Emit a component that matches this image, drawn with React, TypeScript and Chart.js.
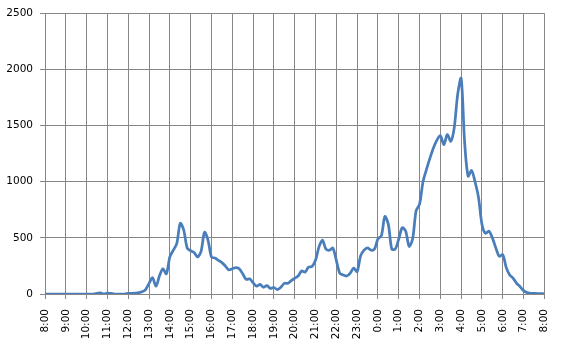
import React, { useEffect, useRef } from "react";
import { Chart, registerables } from "chart.js";

Chart.register(...registerables);

// x tick labels, one per hour, starting at 8:00
const hourLabels = [
  "8:00", "9:00", "10:00", "11:00", "12:00", "13:00", "14:00", "15:00",
  "16:00", "17:00", "18:00", "19:00", "20:00", "21:00", "22:00", "23:00",
  "0:00", "1:00", "2:00", "3:00", "4:00", "5:00", "6:00", "7:00", "8:00",
];

// sample interval in minutes
const stepMinutes = 10;

// values every 10 minutes from 8:00 to 8:00 next day
const values = [
  // 8
  0, 0, 0, 0, 0, 0,
  // 9
  0, 0, 0, 0, 0, 0,
  // 10
  0, 0, 0, 5, 10, 0,
  // 11
  8, 5, 0, 0, 0, 0,
  // 12
  5, 5, 8, 12, 20, 40,
  // 13
  95, 145, 70, 160, 225, 180,
  // 14
  330, 390, 450, 630, 570, 410,
  // 15
  385, 370, 330, 380, 550, 480,
  // 16
  330, 320, 300, 280, 250, 215,
  // 17
  225, 235, 225, 180, 130, 135,
  // 18
  100, 70, 85, 60, 75, 50,
  // 19
  58, 40, 60, 95, 95, 120,
  // 20
  140, 160, 205, 195, 240, 245,
  // 21
  300, 420, 480, 400, 390, 410,
  // 22
  300, 185, 170, 160, 185, 230,
  // 23
  200, 340, 390, 410, 390, 400,
  // 0
  490, 520, 690, 620, 400, 400,
  // 1
  490, 590, 560, 425, 490, 740,
  // 2
  800, 1000, 1110, 1210, 1300, 1370,
  // 3
  1410, 1330, 1420, 1360, 1480, 1780,
  // 4
  1920, 1350, 1050, 1100, 1000, 860,
  // 5
  620, 540, 560, 500, 410, 335,
  // 6
  350, 235, 170, 140, 95, 65,
  // 7
  30, 12, 6, 5, 4, 3,
  // 8
  2,
];

const yTicks = [0, 500, 1000, 1500, 2000, 2500];

export default function App() {
  const canvasRef = useRef<HTMLCanvasElement | null>(null);

  useEffect(() => {
    const canvas = canvasRef.current;
    if (!canvas) return;
    const gridColor = "#878787";
    const font = { family: "'DejaVu Sans', Verdana, sans-serif", size: 10.5 };
    const chart = new Chart(canvas, {
      type: "line",
      data: {
        datasets: [
          {
            data: values.map((v, i) => ({ x: i * stepMinutes, y: v })),
            borderColor: "#4A7EBB",
            borderWidth: 2.75,
            pointRadius: 0,
            tension: 0.3,
            fill: false,
          },
        ],
      },
      options: {
        animation: false,
        responsive: false,
        maintainAspectRatio: false,
        layout: { padding: { left: 0, right: 12, top: 10, bottom: 0 } },
        plugins: { legend: { display: false }, tooltip: { enabled: false } },
        scales: {
          x: {
            type: "linear",
            min: 0,
            max: (hourLabels.length - 1) * 60,
            afterFit: (s: any) => {
              s.height = 51;
            },
            afterBuildTicks: (s: any) => {
              s.ticks = hourLabels.map((_, i) => ({ value: i * 60 }));
            },
            ticks: {
              stepSize: 60,
              autoSkip: false,
              maxRotation: 90,
              minRotation: 90,
              padding: 10,
              color: "#000",
              font,
              callback: (v: any) => hourLabels[Math.round(Number(v) / 60)],
            },
            grid: {
              color: gridColor,
              lineWidth: 1,
              tickLength: 5,
              drawTicks: true,
            },
            border: { color: gridColor, width: 1 },
          },
          y: {
            min: 0,
            max: 2500,
            afterFit: (s: any) => {
              s.width = 45;
            },
            afterBuildTicks: (s: any) => {
              s.ticks = yTicks.map((v) => ({ value: v }));
            },
            ticks: {
              padding: 7,
              color: "#000",
              font,
              callback: (v: any) => String(v),
            },
            grid: {
              color: gridColor,
              lineWidth: 1,
              tickLength: 5,
            },
            border: { color: gridColor, width: 1 },
          },
        },
      },
    });
    return () => chart.destroy();
  }, []);

  return (
    <div
      style={{
        position: "fixed",
        left: 0,
        top: 0,
        width: 567,
        height: 345,
        background: "#fff",
      }}
    >
      <canvas ref={canvasRef} width={567} height={345} style={{ width: 567, height: 345 }} />
    </div>
  );
}
